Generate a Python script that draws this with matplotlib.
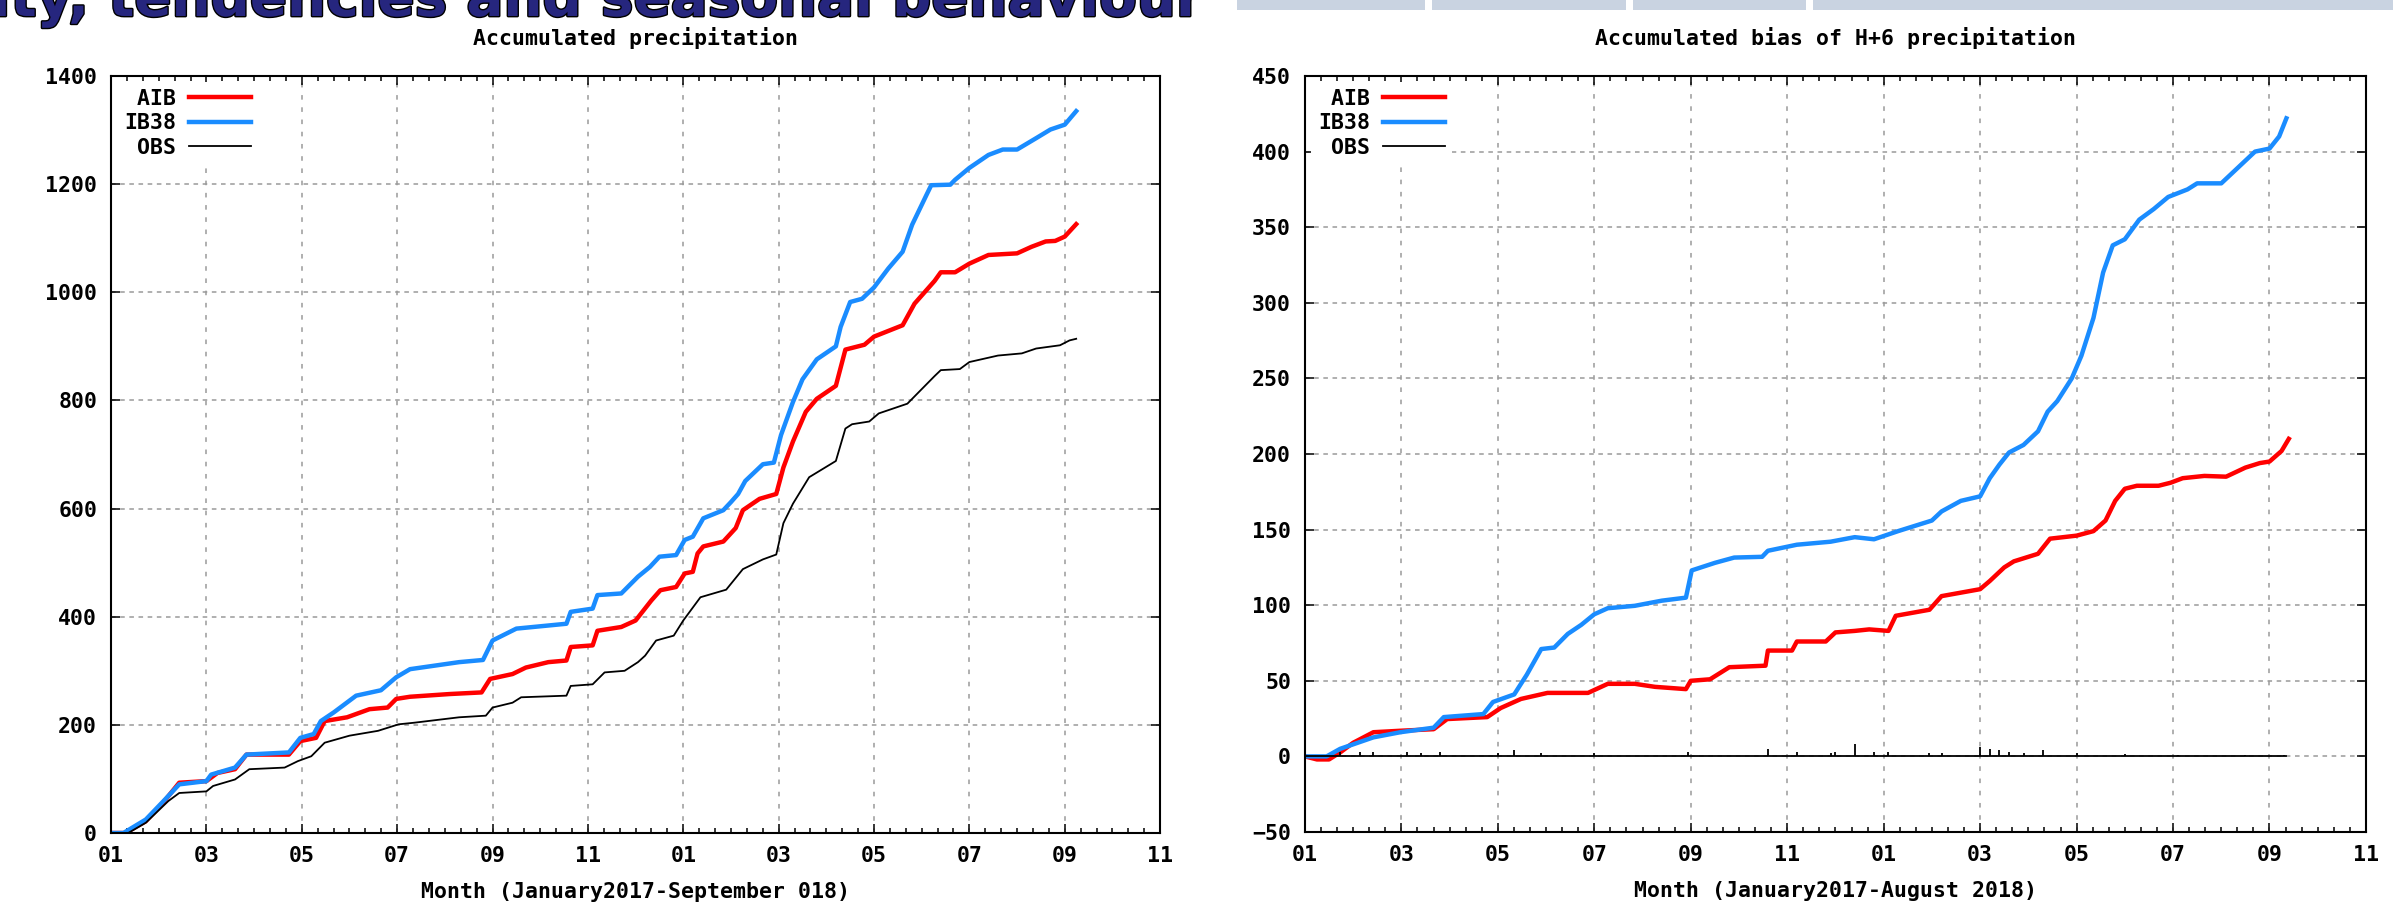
import matplotlib
matplotlib.use("Agg")
import matplotlib.pyplot as plt
from matplotlib.ticker import MultipleLocator
from matplotlib.patches import Rectangle
import matplotlib.patheffects as pe

# months since Jan 2017
tick_months = list(range(0, 23, 2))
tick_labels = ['01', '03', '05', '07', '09', '11', '01', '03', '05', '07', '09', '11']

# Accumulated precipitation (left)
aib_m = [0, 0.3, 0.73, 1.1, 1.43, 2.0, 2.23, 2.6, 2.84, 3.73, 3.97, 4.3, 4.48, 4.95, 5.42, 5.8,
         5.98, 6.27, 7.1, 7.77, 7.95, 8.42, 8.7, 9.17, 9.55, 9.64, 10.1, 10.2, 10.7, 11.0, 11.33,
         11.52, 11.85, 12.03, 12.2, 12.3, 12.42, 12.84, 13.1, 13.25, 13.6, 13.95, 14.1, 14.3,
         14.57, 14.8, 15.2, 15.4, 15.8, 16.0, 16.6, 16.85, 17.27, 17.4, 17.7, 18.0, 18.4, 19.0,
         19.3, 19.6, 19.8, 20.0, 20.24]
aib_v = [0, 0, 22, 57, 93, 96, 111, 118, 145, 145, 170, 176, 207, 214, 229, 232, 248, 252, 257,
         260, 285, 294, 306, 316, 319, 344, 347, 374, 381, 393, 430, 449, 455, 480, 483, 517, 530,
         539, 564, 597, 618, 627, 676, 724, 779, 803, 827, 894, 903, 918, 939, 979, 1021, 1037,
         1037, 1053, 1069, 1072, 1084, 1094, 1095, 1103, 1126]

ib38_m = [0, 0.26, 0.73, 1.1, 1.43, 2.0, 2.1, 2.6, 2.84, 3.73, 3.97, 4.25, 4.4, 4.67, 5.14, 5.66,
          5.98, 6.27, 7.3, 7.8, 8.0, 8.5, 9.55, 9.64, 10.1, 10.2, 10.7, 11.05, 11.3, 11.5, 11.85,
          12.03, 12.2, 12.42, 12.84, 13.0, 13.15, 13.3, 13.67, 13.9, 14.05, 14.3, 14.5, 14.8,
          15.2, 15.3, 15.5, 15.75, 16.0, 16.3, 16.6, 16.8, 17.1, 17.2, 17.6, 17.7, 18.0, 18.4,
          18.7, 19.0, 19.4, 19.7, 20.0, 20.24]
ib38_v = [0, 0, 25, 59, 90, 96, 108, 121, 145, 149, 176, 183, 207, 223, 254, 264, 288, 303, 316,
          320, 356, 378, 387, 409, 415, 440, 443, 474, 492, 511, 514, 542, 548, 582, 597, 612,
          627, 651, 682, 685, 736, 797, 839, 876, 900, 936, 982, 988, 1009, 1044, 1075, 1125,
          1180, 1198, 1199, 1208, 1230, 1254, 1264, 1264, 1285, 1301, 1310, 1335]

obs_m = [0, 0.36, 0.73, 1.2, 1.43, 2.0, 2.14, 2.6, 2.9, 3.64, 3.92, 4.2, 4.48, 5.0, 5.6, 6.03,
         6.36, 7.3, 7.86, 8.0, 8.42, 8.6, 9.55, 9.64, 10.1, 10.35, 10.77, 11.05, 11.2, 11.43,
         11.8, 12.0, 12.36, 12.9, 13.25, 13.67, 13.95, 14.1, 14.3, 14.64, 15.2, 15.4, 15.54,
         15.9, 16.1, 16.7, 17.27, 17.4, 17.8, 18.0, 18.6, 19.1, 19.4, 19.9, 20.1, 20.24]
obs_v = [0, 0, 19, 59, 74, 77, 87, 99, 118, 121, 133, 142, 167, 180, 189, 201, 204, 214, 217,
         232, 241, 251, 254, 272, 275, 297, 300, 316, 328, 356, 365, 393, 436, 450, 488, 506,
         515, 573, 609, 658, 688, 748, 756, 761, 776, 794, 845, 856, 858, 871, 883, 887, 896,
         902, 911, 914]

# Accumulated bias of H+6 precipitation (right)
aib_bias_m = [0, 0.25, 0.5, 0.73, 1.0, 1.42, 2.0, 2.67, 2.95, 3.78, 4.06, 4.48, 5.03, 5.87, 6.28,
              6.84, 7.26, 7.9, 8.0, 8.4, 8.8, 9.55, 9.6, 10.1, 10.2, 10.8, 11.0, 11.4, 11.7, 12.1,
              12.25, 12.95, 13.2, 14.0, 14.2, 14.5, 14.7, 15.2, 15.45, 16.0, 16.35, 16.6, 16.8,
              17.0, 17.25, 17.7, 17.95, 18.2, 18.65, 19.1, 19.5, 19.8, 20.0, 20.25, 20.4]
aib_bias_v = [0, -2, -2, 2.6, 9, 16, 17, 18, 24.7, 26, 32, 38, 42, 42, 48, 48, 46, 44.5, 50, 51,
              59, 60, 70, 70, 76, 76, 82, 83, 84, 83, 93, 97, 106, 110.6, 116, 125, 129, 134, 144,
              146, 149, 156, 169, 177, 179, 179, 181, 184, 185.5, 185, 191, 194, 195, 202, 210]

ib38_bias_m = [0, 0.45, 0.73, 1.42, 1.98, 2.67, 2.88, 3.7, 3.9, 4.34, 4.6, 4.9, 5.17, 5.45, 5.73,
               6.0, 6.28, 6.84, 7.4, 7.9, 8.02, 8.5, 8.9, 9.48, 9.6, 10.2, 10.9, 11.4, 11.8, 12.3,
               12.7, 13.0, 13.2, 13.6, 14.0, 14.2, 14.4, 14.6, 14.9, 15.2, 15.4, 15.6, 15.9, 16.1,
               16.35, 16.55, 16.75, 17.0, 17.3, 17.6, 17.9, 18.3, 18.5, 19.0, 19.3, 19.7, 20.0,
               20.2, 20.35]
ib38_bias_v = [0, 0, 5, 12.6, 16, 19, 26, 28, 36, 41, 54, 71, 72, 81, 87, 94, 98, 99.6, 103, 105,
               123, 128, 131.5, 132, 136, 140, 142, 145, 143.6, 149, 153, 156, 162, 169, 172, 184,
               193, 201, 206, 215, 228, 235, 250, 265, 290, 320, 338, 342, 355, 362, 370, 375,
               379, 379, 388, 400, 402, 410, 422]

# OBS on the bias panel: flat at zero with small spikes
obs_bias_line_m = [0, 20.35]
obs_bias_line_v = [0, 0]
obs_spike_m = [0.73, 1.15, 1.42, 2.12, 2.4, 2.8, 4.0, 4.34, 4.9, 6.0, 7.95, 9.6, 10.2, 10.9, 11.0,
               11.4, 11.8, 12.1, 12.95, 13.2, 14.0, 14.2, 14.4, 14.6, 14.9, 15.3, 16.0, 17.0,
               18.1, 19.5, 20.3]
obs_spike_v = [3, 3, 3, 3, 2, 3, 2, 4, 2, 2, 3, 5, 3, 2, 3, 8, 3, 3, 2, 2, 6, 5, 4, 3, 2, 4, 2,
               1.5, 1, 1, 1]

RED = '#ff0000'
BLUE = '#1a8cff'
FONT = ['DejaVu Sans Mono']
FS = 15.5
plt.rcParams['font.family'] = FONT
plt.rcParams['font.weight'] = 'bold'

fig = plt.figure(figsize=(23.93, 9.09), dpi=100)
ax1 = fig.add_axes([0.0464, 0.0836, 0.4384, 0.8328])
ax2 = fig.add_axes([0.5453, 0.0847, 0.4434, 0.8317])


def style_axes(ax, ylim, ystep, title, xlabel):
    ax.set_xlim(0, 22)
    ax.set_ylim(*ylim)
    ax.set_xticks(tick_months)
    ax.set_xticklabels(tick_labels)
    ax.xaxis.set_minor_locator(MultipleLocator(1 / 3))
    ax.yaxis.set_major_locator(MultipleLocator(ystep))
    ax.tick_params(which='both', direction='in', top=True, right=True, width=1.1)
    ax.tick_params(which='major', length=6.5, labelsize=FS)
    ax.tick_params(which='minor', length=3.5)
    ax.tick_params(axis='x', pad=9)
    ax.tick_params(axis='y', pad=10)
    ax.xaxis.grid(True, which='major', color='#9a9a9a', linestyle=(0, (3, 5)), linewidth=1.1)
    ax.yaxis.grid(True, which='major', color='#9a9a9a', linestyle=(0, (3, 3)), linewidth=1.1)
    for sp in ax.spines.values():
        sp.set_linewidth(1.5)
    ax.set_title(title, fontsize=FS, fontweight='bold', pad=22)
    ax.set_xlabel(xlabel, fontsize=FS, fontweight='bold', labelpad=12)
    leg = ax.legend(loc='upper left', markerfirst=False, frameon=True, facecolor='white',
                    edgecolor='none', framealpha=1, fancybox=False,
                    prop={'family': FONT, 'size': FS, 'weight': 'bold'},
                    handlelength=2.9, handletextpad=0.6, labelspacing=0.2,
                    borderpad=0.3, borderaxespad=0.3)
    leg.set_zorder(5)


ax1.plot(aib_m, aib_v, color=RED, lw=3.2, label=' AIB')
ax1.plot(ib38_m, ib38_v, color=BLUE, lw=3.2, label='IB38')
ax1.plot(obs_m, obs_v, color='black', lw=1.3, label=' OBS')
style_axes(ax1, (0, 1400), 200, 'Accumulated precipitation',
           'Month (January2017-September 018)')

ax2.plot(aib_bias_m, aib_bias_v, color=RED, lw=3.2, label=' AIB')
ax2.plot(ib38_bias_m, ib38_bias_v, color=BLUE, lw=3.2, label='IB38')
ax2.plot(obs_bias_line_m, obs_bias_line_v, color='black', lw=1.3, label=' OBS')
ax2.vlines(obs_spike_m, 0, obs_spike_v, color='black', lw=1.3)
style_axes(ax2, (-50, 450), 50, 'Accumulated bias of H+6 precipitation',
           'Month (January2017-August 2018)')

# clipped slide heading above the charts (only its lower part is visible)
fig.text(0.5036, 1 - 16 / 909, 'Variability, tendencies and seasonal behaviour', ha='right',
         va='baseline', fontsize=39.5, fontweight='bold', family='DejaVu Sans', color='#26267e',
         path_effects=[pe.withStroke(linewidth=2, foreground='black')])
for x0, x1 in [(1237, 1425), (1432, 1626), (1633, 1806), (1813, 2393)]:
    fig.patches.append(Rectangle((x0 / 2393, 1 - 10 / 909), (x1 - x0) / 2393, 10 / 909,
                                 transform=fig.transFigure, facecolor='#c9d3e1',
                                 edgecolor='none'))

fig.savefig('out.png', dpi=100)
